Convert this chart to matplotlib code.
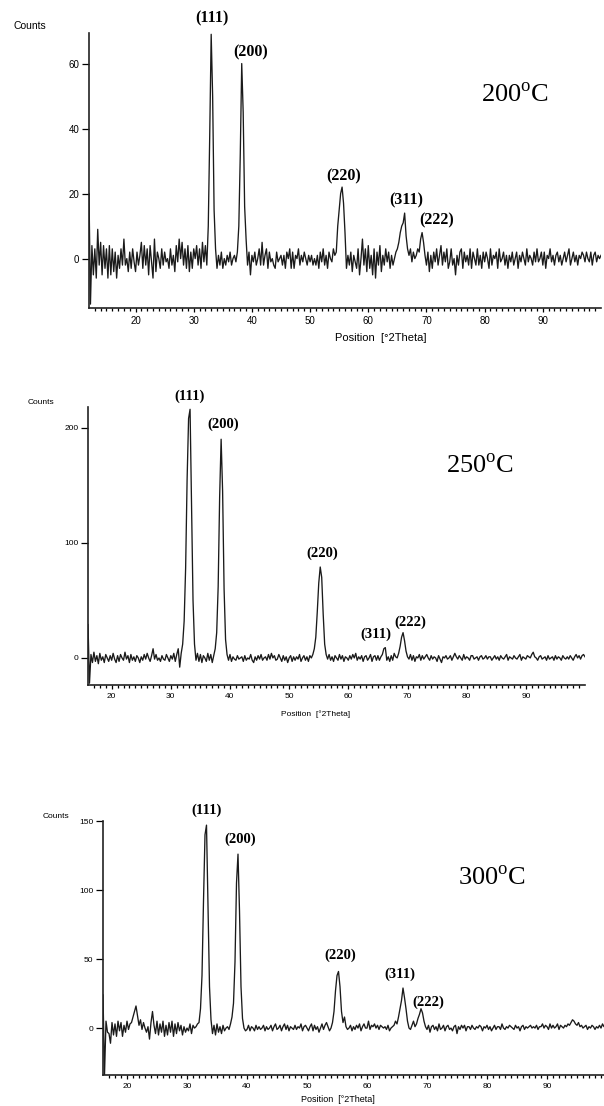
import numpy as np
import matplotlib
matplotlib.use("Agg")
import matplotlib.pyplot as plt

plt.rcParams['mathtext.fontset'] = 'custom'
plt.rcParams['mathtext.rm'] = 'Liberation Serif'

W, H = 604, 1106

# XRD scans, every 0.25 deg (one row = one degree)
step = 0.25
temps = ["200", "250", "300"]
hkl = ["(111)", "(200)", "(220)", "(311)", "(222)"]

start_200 = 12.0
counts_200 = [
    20, -14, 4, -5,  3, -6, 9, -2,  5, -5, 4, -3,  3, -6, 4, -5,
    3, -4, 2, -6,  1, -3, 3, -2,  6, -2, 0, -4,  2, -3, 3, -1,
    -4, 2, -2, 1,  5, -3, 4, -2,  3, -5, 4, -1,  -6, 6, -4, 2,
    0, -3, 3, -2,  2, -1, 0, -3,  3, -2, 1, -4,  4, -1, 6, 0,
    5, -2, 3, -3,  4, -4, 2, -3,  3, 0, 4, -2,  3, -3, 5, -1,
    4, -2, 10, 38,  69, 50, 15, 3,  -3, 1, -2, 2,  -3, 0, -2, 1,
    -1, 2, -2, 0,  1, -1, 2, 10,  32, 60, 45, 16,  6, -2, 2, -5,
    1, -1, 2, -2,  0, 3, -2, 5,  -2, 1, 3, -3,  2, -1, 0, -2,
    -3, 2, -1, 0,  1, -2, 1, -3,  2, 0, 3, -3,  2, -3, 1, 0,
    3, -2, 1, -1,  2, 0, -2, 1,  -1, 1, -2, 0,  -2, 1, -3, 2,
    -1, 3, -2, 1,  -3, 2, 0, -1,  3, 1, 2, 10,  15, 20, 22, 17,
    8, -3, 1, -2,  2, -4, 1, -1,  -3, 3, -5, 0,  6, -2, 3, -4,
    4, -3, 1, -5,  3, -6, 2, -2,  4, -4, 1, -2,  3, -1, 2, -3,
    1, -2, 0, 2,  3, 5, 8, 10,  11, 14, 7, 3,  1, 3, -1, 2,
    0, 1, 3, 2,  6, 8, 5, 1,  -2, 2, -4, 1,  -3, 2, -1, 3,
    -2, 1, 4, -2,  2, -1, 3, -3,  -1, 3, -2, 0,  -5, 1, -2, 2,
    3, -3, 2, -1,  1, -2, 3, -3,  2, 0, -2, 3,  -2, 1, -3, 2,
    -1, 2, 0, -3,  3, -2, 1, 0,  2, -3, 3, -1,  0, 2, -2, 1,
    -3, 1, -1, 2,  -2, 0, 2, -3,  1, -1, 2, 0,  -2, 3, -1, 1,
    0, -2, 2, -1,  3, -1, 0, 2,  -2, 2, -3, 1,  0, 3, -1, 1,
    -2, 1, 2, -1,  1, -2, 0, 2,  -1, 1, 3, -2,  0, 2, -1, 1,
    -2, 1, 0, 2,  1, -1, 2, 0,  -1, 2, -2, 1,  2, -1, 1, 0,
    1,
]

start_250 = 16.0
counts_250 = [
    29, -22, 3, -4,  5, -3, 2, -5,  4, -2, 1, -4,  3, 0, -3, 2,
    -2, 4, -1, -4,  2, -3, 3, 0,  -2, 5, -1, 2,  -4, 3, -2, 1,
    -3, 2, 0, -4,  1, -2, 3, -1,  4, 0, -3, 2,  8, -1, 3, -2,
    0, -3, 2, -1,  -2, 3, 0, -3,  2, -1, 4, -3,  3, 8, -8, 4,
    12, 32, 78, 155,  208, 216, 135, 50,  12, -2, 4, -3,  3, -4, 2, 0,
    -3, 4, -2, 3,  -4, 2, 8, 22,  62, 140, 190, 145,  60, 16, 3, -2,
    3, -3, 1, -1,  -2, 2, -1, 0,  1, -3, 2, -2,  0, -1, 3, -2,
    -4, 1, -2, 2,  -1, 3, -2, 0,  1, -2, 3, -1,  4, 0, 2, -2,
    -1, 3, 0, -3,  2, -2, 1, -4,  0, 2, -3, 1,  -2, 1, -1, 3,
    -3, 0, 2, -2,  1, -3, 2, 0,  3, 8, 18, 40,  65, 79, 70, 38,
    12, 3, -1, 3,  -2, 1, -3, 2,  0, -2, 3, -1,  2, -3, 1, 0,
    -2, 2, -1, 3,  0, 4, -2, 1,  -1, 2, -3, 1,  2, -2, 0, 3,
    -3, 1, 2, -2,  2, -2, 1, 3,  8, 9, -2, 1,  -3, 2, -2, 4,
    1, 0, 4, 10,  18, 22, 15, 6,  1, -1, 3, -2,  2, -3, 1, 0,
    3, -2, 2, -1,  1, 3, 0, -2,  2, -1, 1, 0,  -3, 2, -1, -4,
    1, 0, 2, -1,  0, 2, -2, 1,  4, 1, -1, 2,  0, -2, 3, -1,
    1, 0, -2, 2,  2, -1, 0, 1,  -2, 1, 2, -1,  0, 2, -1, 1,
    1, -2, 0, 2,  -1, 1, -2, 2,  0, -1, 1, 3,  -2, 1, 0, -1,
    2, 0, -1, 1,  3, -2, 1, 0,  -1, 2, 1, 0,  3, 5, 1, 0,
    -2, 1, 2, -1,  0, 1, -2, 2,  -1, 0, 1, -2,  2, -1, 1, 0,
    -2, 2, 0, -1,  1, -1, 2, 0,  -2, 1, 3, 0,  2, -1, 2, 3,
    1,
]

start_300 = 16.0
counts_300 = [
    24, -34, 5, -3,  -4, -11, 4, -5,  3, -6, 5, -2,  4, -6, 2, -3,
    5, -1, 3, 4,  8, 12, 16, 9,  2, 6, -1, 4,  0, -3, 1, -8,
    4, 12, 2, -4,  5, -5, 3, -3,  5, -6, 2, -5,  4, -3, 5, -6,
    3, -4, 4, -2,  2, -5, 1, -3,  0, -2, 3, -4,  2, 0, 1, 3,
    4, 14, 38, 92,  140, 147, 88, 30,  6, -4, 2, -5,  3, -3, 1, -4,
    2, -2, 0, 1,  -1, 3, 8, 18,  48, 105, 126, 85,  30, 7, 0, -2,
    -1, 2, -2, 1,  0, -2, 2, -1,  1, -1, 0, 2,  -2, 1, -1, 0,
    2, -2, 1, 3,  -1, 0, 2, -2,  1, 3, -1, 2,  -2, 1, 0, -1,
    2, -1, 1, 0,  3, -2, 1, 2,  0, -2, 1, 3,  -2, 2, -1, 1,
    -3, 0, 3, -1,  2, 4, 1, -2,  0, 4, 12, 27,  38, 41, 30, 12,
    4, 8, 1, -1,  0, 2, -2, 1,  -1, 2, 0, 3,  -2, 1, 3, 0,
    0, 5, -1, 2,  1, 3, 0, 2,  -1, 2, 1, 0,  1, -1, 2, -2,
    0, 1, 2, 5,  3, 8, 14, 20,  29, 22, 14, 5,  0, -1, 2, 5,
    1, 3, 7, 10,  14, 11, 5, 1,  -1, 2, -3, 1,  2, -1, 1, -2,
    3, -1, 0, 2,  -2, 1, 2, -1,  0, -2, 1, 2,  -4, 1, -1, 2,
    0, 2, -2, 1,  1, -1, 2, 0,  -1, 1, 0, 2,  1, -2, 1, 0,
    2, -1, 1, -2,  0, 2, -1, 1,  1, -1, 3, 0,  -1, 1, 0, 2,
    1, 0, -1, 2,  0, 1, -2, 1,  2, -1, 1, 0,  1, 2, 0, 1,
    0, 2, -1, 1,  1, 3, 0, 2,  1, -1, 3, 0,  2, 0, 1, 3,
    -1, 2, 1, 0,  2, 1, 3, 2,  4, 6, 5, 3,  2, 4, 1, 2,
    0, 1, 2, -1,  1, 0, 2, 1,  -1, 1, 0, 2,  0, 3, 1, 2,
]

yticks = [[0, 20, 40, 60], [0, 100, 200], [0, 50, 100, 150]]
ylims = [(-15.2, 69.4), (-23.5, 218), (-34, 150)]
xmins = [12, 16, 16]
starts = [start_200, start_250, start_300]
series = [counts_200, counts_250, counts_300]

# peak label spots in data units (x, y) per panel
label_xy = [
    [(33.1, 74.0), (39.7, 63.5), (55.7, 25.4), (66.6, 18.0), (71.7, 11.8)],
    [(33.15, 227), (38.9, 202.6), (55.6, 91.3), (64.7, 20.9), (70.4, 31.3)],
    [(33.3, 158), (38.8, 137), (55.5, 52.9), (65.5, 39.1), (70.2, 18.8)],
]

# axes boxes in pixels: left, top, right, bottom
boxes = [(89, 33, 601, 308), (88, 407, 585, 685), (103, 821, 607, 1075)]
tick_fs = [7, 6, 6]
lab_fs = [11.5, 10.5, 10.5]
counts_pos = [(30, 26, 7.5), (41, 403, 6), (56, 816, 6)]
pos_label = [(381, 338, 8), (316, 714, 6), (338, 1100, 6.5)]
temp_pos = [(515, 102), (480, 473), (492, 885)]

fig = plt.figure(figsize=(W / 100, H / 100), dpi=100)

for i in range(3):
    l, t, r, b = boxes[i]
    ax = fig.add_axes([l / W, 1 - b / H, (r - l) / W, (b - t) / H])
    y = np.array(series[i], dtype=float)
    x = starts[i] + step * np.arange(len(y))
    ax.plot(x, y, color='#1a1a1a', lw=0.95)
    ax.set_xlim(xmins[i], 100)
    ax.set_ylim(*ylims[i])
    for s in ['top', 'right']:
        ax.spines[s].set_visible(False)
    for s in ['left', 'bottom']:
        ax.spines[s].set_linewidth(1.2)
        ax.spines[s].set_color('#222222')
    ax.set_yticks(yticks[i])
    ax.set_xticks(range(20, 100, 10))
    ax.set_xticks(range(xmins[i] + 1, 100), minor=True)
    ax.tick_params(axis='y', direction='out', length=5, width=0.9,
                   labelsize=tick_fs[i], pad=2)
    ax.tick_params(axis='x', which='major', direction='out', length=3,
                   width=0.9, labelsize=tick_fs[i], pad=3)
    ax.tick_params(axis='x', which='minor', direction='out', length=2.2,
                   width=0.9)
    for lab in ax.get_xticklabels() + ax.get_yticklabels():
        lab.set_fontfamily('Liberation Sans')
    for name, (lx, ly) in zip(hkl, label_xy[i]):
        ax.text(lx, ly, name, ha='center', va='center', fontsize=lab_fs[i],
                fontweight='bold', family='Liberation Serif', clip_on=False)

    cx, cy, cfs = counts_pos[i]
    fig.text(cx / W, 1 - cy / H, "Counts", ha='center', va='center',
             fontsize=cfs, family='Liberation Sans')
    px, py, pfs = pos_label[i]
    fig.text(px / W, 1 - py / H, "Position  [\u00b02Theta]", ha='center',
             va='center', fontsize=pfs, family='Liberation Sans')
    tx, ty = temp_pos[i]
    fig.text(tx / W, 1 - ty / H, temps[i] + r"$^{\mathrm{o}}$C", ha='center',
             va='baseline', fontsize=19, family='Liberation Serif')

fig.savefig("out.png", dpi=100, facecolor='white')
